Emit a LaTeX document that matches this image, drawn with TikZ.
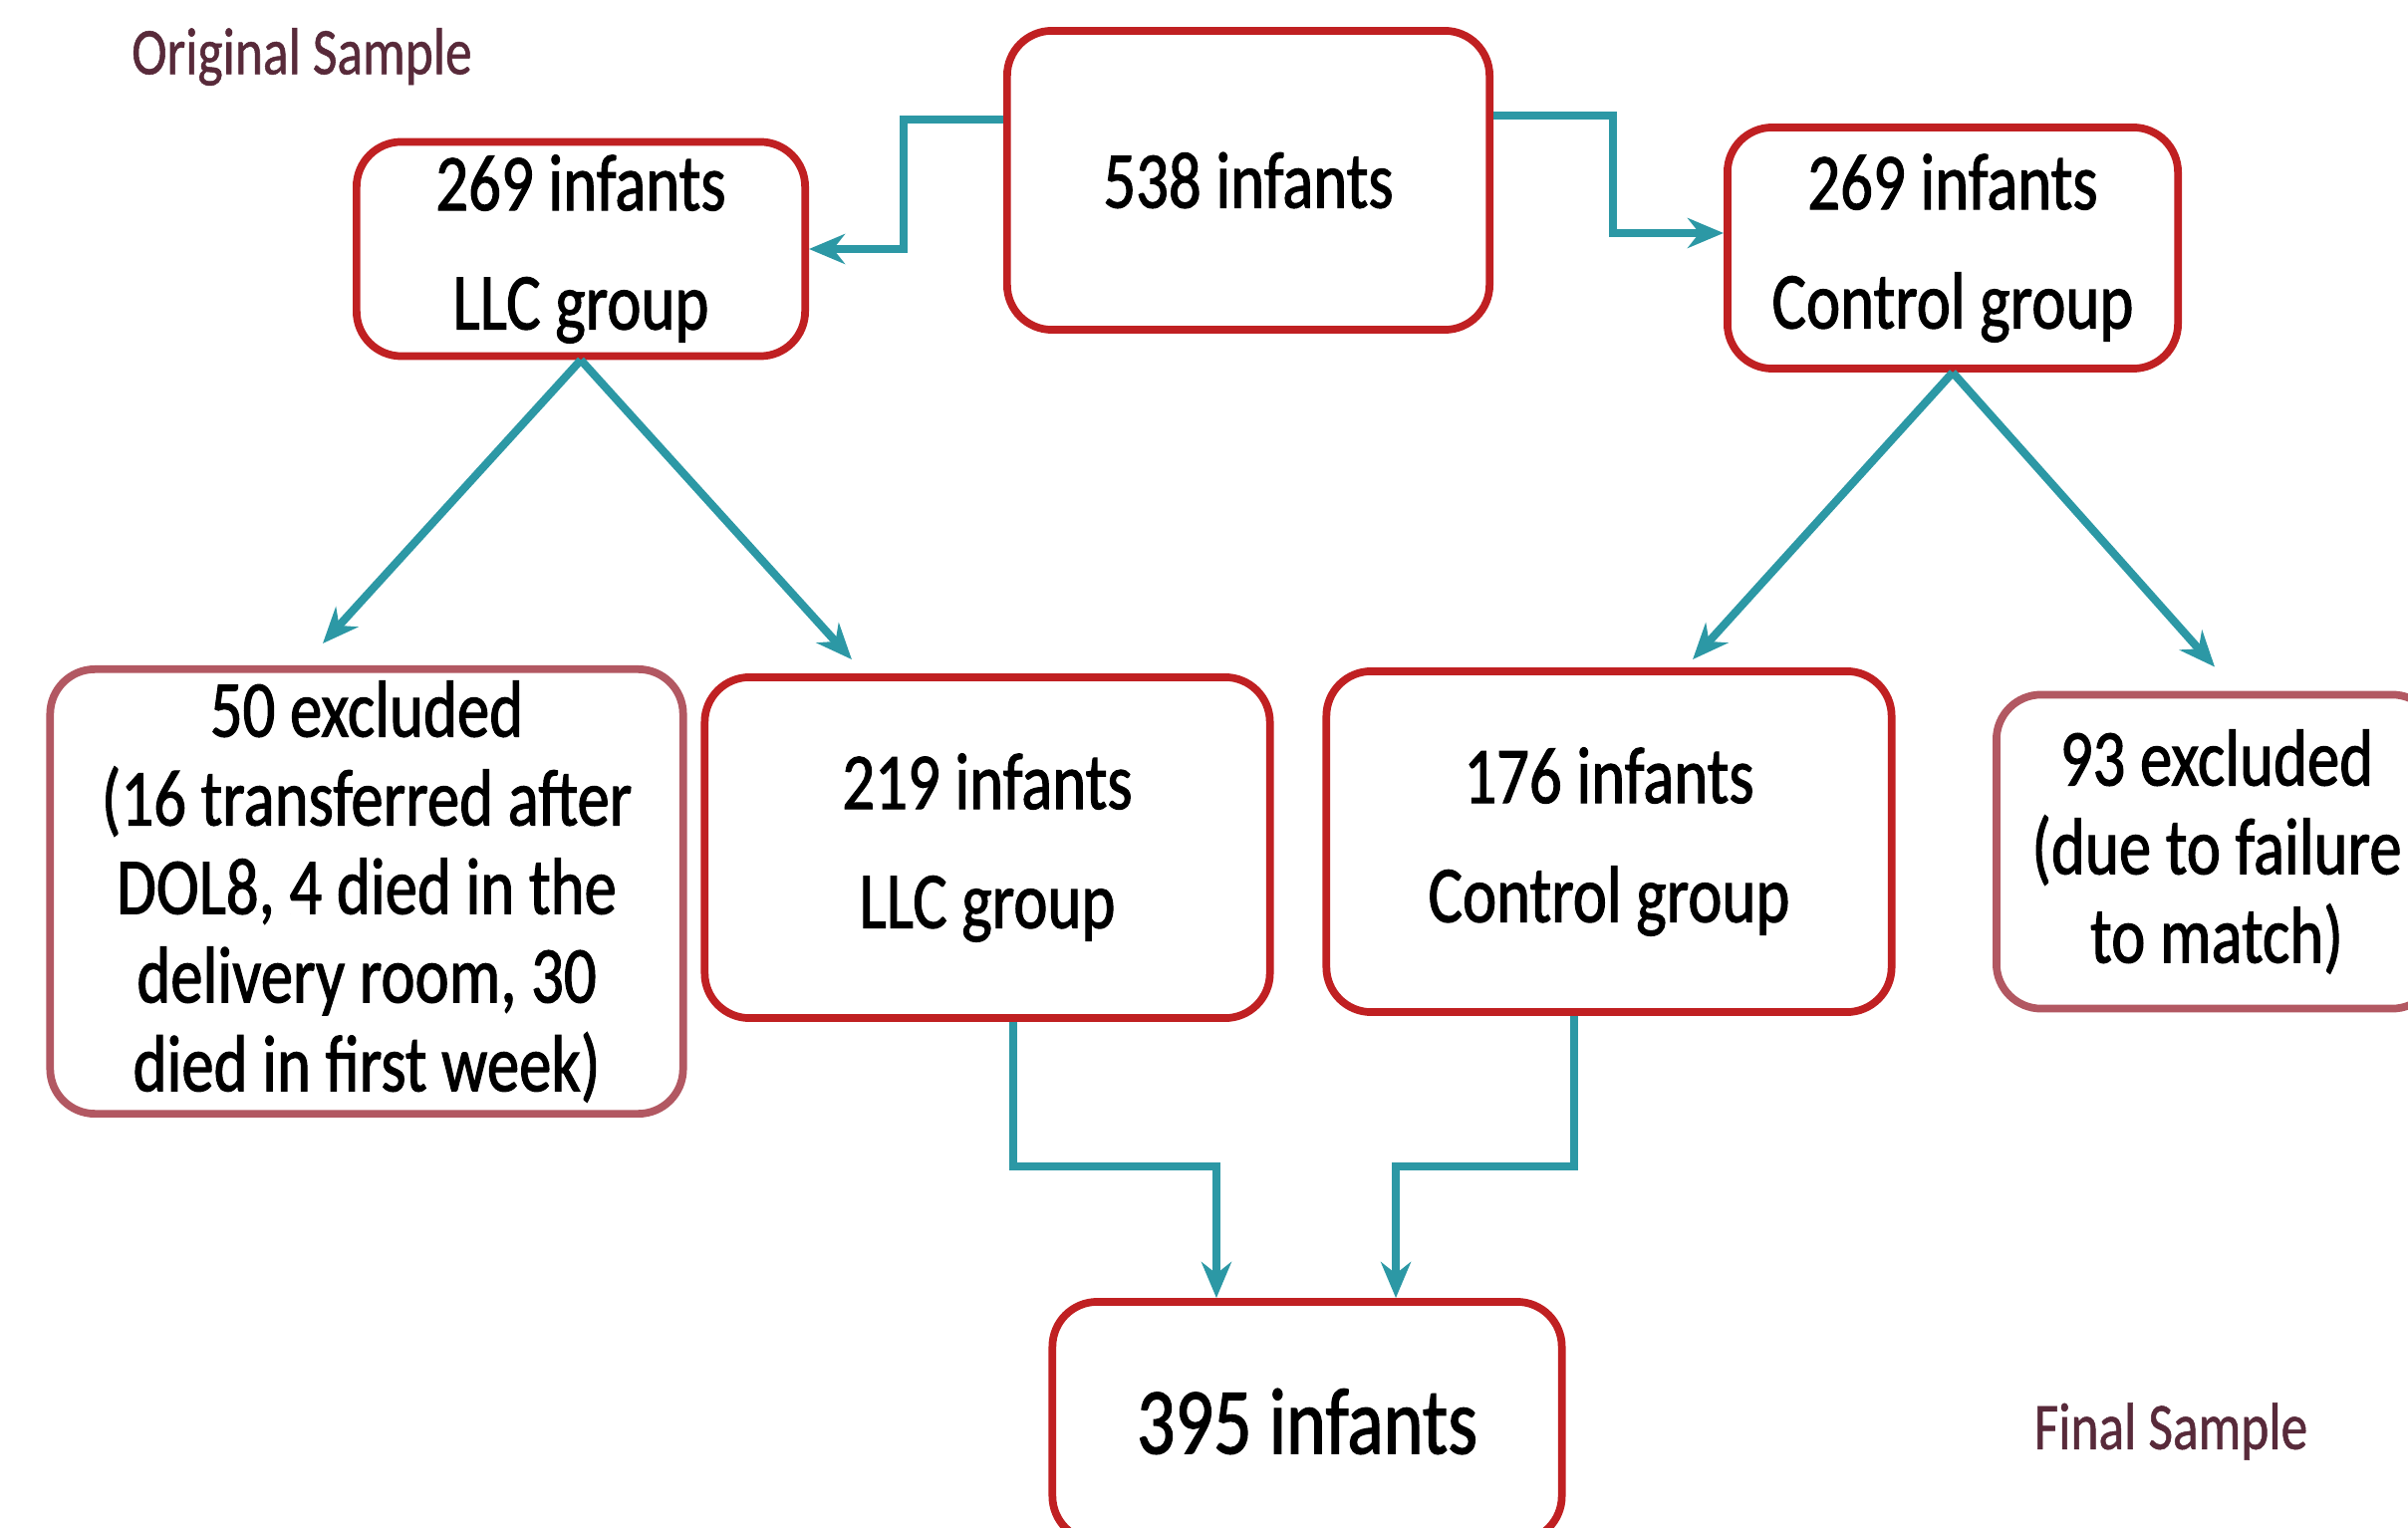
\documentclass[tikz,border=0pt]{standalone}
\usepackage{fontspec}
\setmainfont{Carlito}
\newfontfamily\flowfont[FakeStretch=0.8,FakeBold=1.3]{Carlito}
\newfontfamily\capfont[FakeStretch=0.8,FakeBold=0.8]{Carlito}
\usetikzlibrary{arrows.meta, positioning}
\definecolor{boxred}{RGB}{192, 32, 34}
\definecolor{exclred}{RGB}{178, 88, 98}
\definecolor{flowteal}{RGB}{44, 152, 165}
\definecolor{titlemaroon}{RGB}{88, 42, 58}

\begin{document}
\begin{tikzpicture}[
  x=0.01cm, y=-0.01cm,
  stagebox/.style={draw=boxred, fill=white, line width=2.2pt, rounded corners=0.45cm,
                   align=center, inner sep=0pt,
                   font=\flowfont\fontsize{23}{34}\selectfont},
  exclbox/.style={stagebox, draw=exclred, font=\flowfont\fontsize{23}{25.3}\selectfont},
  flow/.style={draw=flowteal, line width=2.3pt, -{Stealth[length=0.36cm, width=0.3cm]}},
  caption/.style={text=titlemaroon, font=\capfont\fontsize{19}{22}\selectfont}
]
  \useasboundingbox (0,0) rectangle (2417,1534);
  \clip (0,0) rectangle (2417,1534);

  \node[caption] (orig)  at (303, 57)   {Original Sample};
  \node[caption] (final) at (2179,1437) {Final Sample};

  \node[stagebox, minimum width=4.84cm, minimum height=3.00cm] (all)  at (1253, 181) {538 infants};
  \node[stagebox, minimum width=4.50cm, minimum height=2.15cm] (llc)  at (583, 250)  {269 infants\\LLC group};
  \node[stagebox, minimum width=4.52cm, minimum height=2.42cm] (ctl)  at (1960, 249) {269 infants\\Control group};

  \node[exclbox,  minimum width=6.35cm, minimum height=4.46cm] (exLLC) at (368, 895) {50 excluded\\(16 transferred after\\DOL8, 4 died in the\\delivery room, 30\\died in first week)};
  \node[stagebox, minimum width=5.67cm, minimum height=3.42cm] (llcF) at (991, 851)  {219 infants\\LLC group};
  \node[stagebox, minimum width=5.67cm, minimum height=3.42cm] (ctlF) at (1615, 845) {176 infants\\Control group};
  \node[exclbox,  minimum width=4.42cm, minimum height=3.15cm] (exCtl) at (2225, 855) {93 excluded\\(due to failure\\to match)};

  \node[stagebox, minimum width=5.11cm, minimum height=2.40cm,
        font=\flowfont\fontsize{27}{32}\selectfont] (final395) at (1312, 1427) {395 infants};

  \draw[flow] ([yshift=0.61cm]all.west) -- ++(-100,0) |- (llc.east);
  \draw[flow] ([yshift=0.65cm]all.east) -- ++(120,0) |- ([yshift=0.15cm]ctl.west);

  \draw[flow] (llc.south) -- ([xshift=-0.44cm, yshift=0.22cm]exLLC.north);
  \draw[flow] (llc.south) -- ([xshift=-1.36cm, yshift=0.14cm]llcF.north);
  \draw[flow] (ctl.south) -- ([xshift=0.84cm, yshift=0.08cm]ctlF.north);
  \draw[flow] (ctl.south) -- ([xshift=-0.02cm, yshift=0.24cm]exCtl.north);

  \draw[flow] ([xshift=0.26cm]llcF.south) -- ++(0,145) -| ([xshift=-0.91cm]final395.north);
  \draw[flow] ([xshift=-0.35cm]ctlF.south) -- ++(0,151) -| ([xshift=0.89cm]final395.north);
\end{tikzpicture}
\end{document}
